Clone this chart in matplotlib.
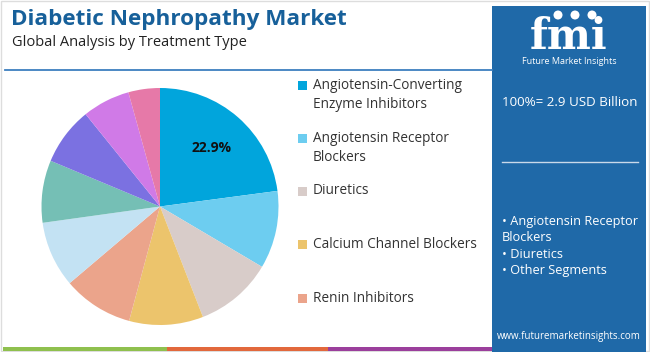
import matplotlib.pyplot as plt
from matplotlib.patches import Rectangle

# Treatment type shares (%), read clockwise from 12 o'clock
segments = ['Angiotensin-Converting\nEnzyme Inhibitors', 'Angiotensin Receptor\nBlockers', 'Diuretics',
            'Calcium Channel Blockers', 'Renin Inhibitors', 'Other 1', 'Other 2', 'Other 3', 'Other 4', 'Other 5']
shares = [22.9, 10.6, 10.6, 10.1, 9.6, 9.0, 8.5, 7.9, 6.5, 4.3]
colors = ['#01a5dc', '#6dcdf0', '#d8ccc9', '#ecc46c', '#eba48b', '#c3e2f3', '#75bfb5', '#7b71e1', '#d07ae7', '#e679a8']
legend_y = [95, 148, 191, 244, 298]   # pixel rows of the five legend entries

total_text = '100%= 2.9 USD Billion'
bullets = '\u2022 Angiotensin Receptor\nBlockers\n\u2022 Diuretics\n\u2022 Other Segments'

W, H = 650, 352
fig = plt.figure(figsize=(6.5, 3.52), dpi=100)
bg = fig.add_axes([0, 0, 1, 1])
bg.set_xlim(0, W)
bg.set_ylim(H, 0)
bg.axis('off')

font = 'Open Sans'
navy = '#17609a'
panel = '#1f69a8'

# light frame
bg.add_patch(Rectangle((1, 1), W - 2, H - 2, fill=False, edgecolor='#dddddd', lw=1))

# titles
bg.text(11, 19, 'Diabetic Nephropathy Market', fontsize=16.2, fontweight='bold', color=navy,
        family=font, va='center', ha='left')
bg.text(12, 42, 'Global Analysis by Treatment Type', fontsize=10.5, color='#222222',
        family=font, va='center', ha='left')
bg.plot([5, 492], [70, 70], color='#3d7fbf', lw=1.3)

# bottom stripe
bg.add_patch(Rectangle((3, 347), 164, 4, color='#8fc04e', lw=0))
bg.add_patch(Rectangle((167, 347), 161, 4, color='#e2683c', lw=0))
bg.add_patch(Rectangle((328, 347), 165, 4, color='#9b3f9c', lw=0))

# right panel
bg.add_patch(Rectangle((492, 6), 154, H - 6, color=panel, lw=0))
bg.text(569, 37, 'fmi', fontsize=30, fontweight='bold', color='white', family='DejaVu Serif',
        ha='center', va='center')
for yy in range(22, 54, 3):
    bg.plot([520, 620], [yy, yy], color=panel, lw=0.7)
for cx in (558, 575, 592):
    bg.add_patch(plt.Circle((cx, 15), 4.5, color='white', lw=0))
bg.text(569, 61, 'Future Market Insights', fontsize=6.5, color='white', family=font,
        ha='center', va='center')
bg.text(502, 103, total_text, fontsize=9.6, color='white', family=font, ha='left', va='center')
bg.plot([502, 638], [162, 162], color='#c9d9ea', lw=1)
bg.text(502, 246, bullets, fontsize=9.2, color='white', family=font, ha='left', va='center',
        linespacing=1.35)
bg.text(569, 337, 'www.futuremarketinsights.com', fontsize=7, color='white', family=font,
        ha='center', va='center')

# legend (first five segments)
for name, col, ly in zip(segments[:5], colors[:5], legend_y):
    nlines = name.count('\n') + 1
    top = ly - (nlines - 1) * 9.5
    bg.add_patch(Rectangle((298, top - 4.5), 9, 9, color=col, lw=0))
    bg.text(313, ly, name, fontsize=9.8, color='#333333', family=font, ha='left', va='center',
            linespacing=1.45)

# pie
cx, cy, r = 160, 206.5, 118.5
ax = fig.add_axes([(cx - r) / W, 1 - (cy + r) / H, 2 * r / W, 2 * r / H])
ax.pie(shares, colors=colors, startangle=90, counterclock=False,
       autopct=lambda p: f'{p:.1f}%' if p > 20 else '', pctdistance=0.66,
       textprops={'fontsize': 10, 'fontweight': 'bold', 'color': '#111111', 'family': font},
       wedgeprops={'linewidth': 0})
ax.set_xlim(-1, 1)
ax.set_ylim(-1, 1)
ax.set_aspect('equal')
ax.axis('off')

fig.savefig('out.png', dpi=100)
